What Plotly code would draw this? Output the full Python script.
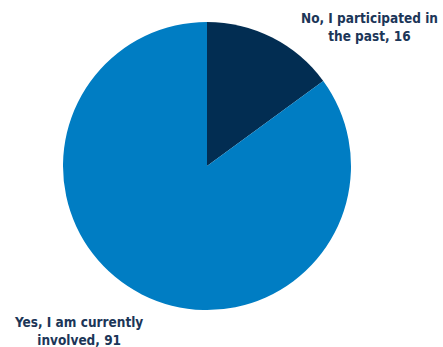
import plotly.graph_objects as go

# Survey responses
categories = ["No, I participated in the past", "Yes, I am currently involved"]
counts = [16, 91]
colors = ["#022D52", "#007DC3"]

W, H = 443, 347
cx, cy, r = 207, 166, 144  # pie centre and radius in pixels

fig = go.Figure(
    go.Pie(
        labels=categories,
        values=counts,
        sort=False,
        direction="clockwise",
        rotation=0,
        marker=dict(colors=colors, line=dict(width=0)),
        textinfo="none",
        hoverinfo="label+value",
        showlegend=False,
        domain=dict(
            x=[(cx - r) / W, (cx + r) / W],
            y=[(H - cy - r) / H, (H - cy + r) / H],
        ),
    )
)

label_font = dict(family="DejaVu Sans Condensed, DejaVu Sans", size=13.5, color="#1C3658")
fig.add_annotation(
    text=f"<b>No, I participated in<br>the past, {counts[0]}</b>",
    x=369 / W, y=1 - 27 / H, xref="paper", yref="paper",
    xanchor="center", yanchor="middle",
    showarrow=False, align="center", font=label_font,
)
fig.add_annotation(
    text=f"<b>Yes, I am currently<br>involved, {counts[1]}</b>",
    x=78 / W, y=1 - 331 / H, xref="paper", yref="paper",
    xanchor="center", yanchor="middle",
    showarrow=False, align="center", font=label_font,
)

fig.update_layout(
    width=W, height=H,
    margin=dict(l=0, r=0, t=0, b=0),
    paper_bgcolor="white", plot_bgcolor="white",
)
fig.write_html("out.html")
